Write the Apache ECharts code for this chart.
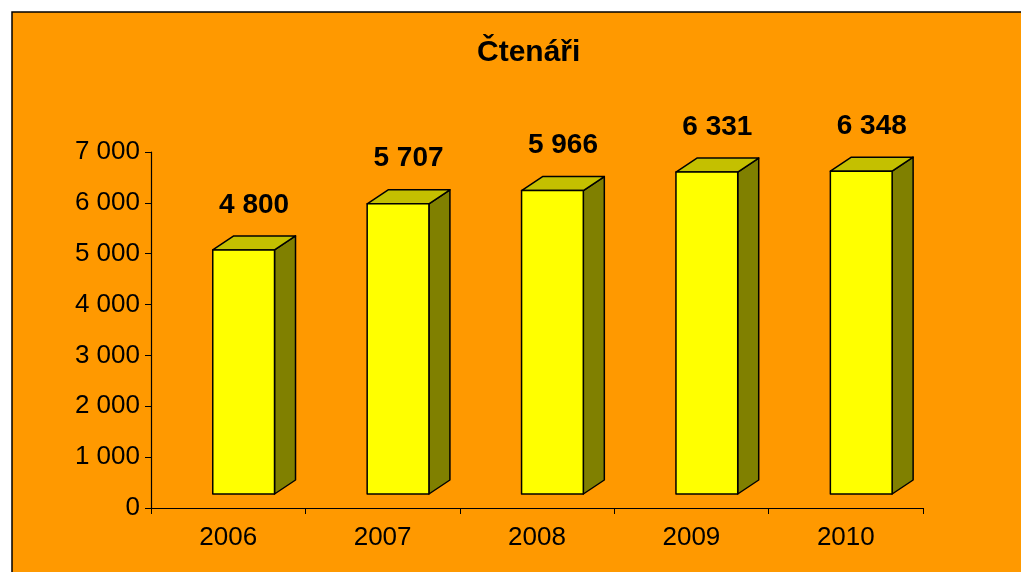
<!DOCTYPE html>
<html>
<head>
<meta charset="utf-8">
<script src="https://cdn.jsdelivr.net/npm/echarts@6/dist/echarts.min.js"></script>
<style>
  html, body { margin: 0; padding: 0; background: #fff; }
  #chart { width: 1021px; height: 572px; }
</style>
</head>
<body>
<div id="chart"></div>
<script>
// data
var years = ['2006', '2007', '2008', '2009', '2010'];
var readers = [4800, 5707, 5966, 6331, 6348];
var yTicks = [0, 1000, 2000, 3000, 4000, 5000, 6000, 7000];

var myChart = echarts.init(document.getElementById('chart'));

function fmt(v) {
    return String(v).replace(/\B(?=(\d{3})+(?!\d))/g, ' ');
}

// 3D sloupec: predni stena, vrch, bok
function renderBox(params, api) {
    var idx = api.value(0);
    var val = api.value(1);
    var band = api.size([1, 0])[0];
    var top = api.coord([idx, val]);
    var base = api.coord([idx, 0]);
    var lift = 14;
    var dx = band * 0.136, dy = 14;
    var x0 = top[0] - band * 0.1;
    var x1 = top[0] + band * 0.3;
    var y0 = top[1] - lift;
    var y1 = base[1] - lift;
    var line = { stroke: '#000', lineWidth: 1.5, lineJoin: 'round' };
    return {
        type: 'group',
        children: [
            {
                type: 'polygon',
                shape: { points: [[x1, y0], [x1 + dx, y0 - dy], [x1 + dx, y1 - dy], [x1, y1]] },
                style: Object.assign({ fill: '#808000' }, line)
            },
            {
                type: 'polygon',
                shape: { points: [[x0, y0], [x0 + dx, y0 - dy], [x1 + dx, y0 - dy], [x1, y0]] },
                style: Object.assign({ fill: '#C4C000' }, line)
            },
            {
                type: 'rect',
                shape: { x: x0, y: y0, width: x1 - x0, height: y1 - y0 },
                style: Object.assign({ fill: '#FFFF00' }, line)
            },
            {
                type: 'text',
                x: (x0 + x1 + dx) / 2,
                y: y0 - dy - 31,
                style: {
                    text: fmt(val),
                    fill: '#000',
                    font: 'bold 28px "Liberation Sans", Arial, sans-serif',
                    align: 'center',
                    verticalAlign: 'middle'
                }
            }
        ]
    };
}

var option = {
    backgroundColor: '#fff',
    animation: false,
    graphic: [
        {
            type: 'rect',
            z: -10,
            silent: true,
            shape: { x: 12, y: 12, width: 1100, height: 700 },
            style: { fill: '#FF9900', stroke: '#000', lineWidth: 1.5 }
        }
    ],
    title: {
        text: 'Čtenáři',
        left: 472,
        top: 33,
        textStyle: {
            color: '#000',
            fontSize: 30,
            fontWeight: 'bold',
            fontFamily: '"Liberation Sans", Arial, sans-serif'
        }
    },
    grid: { left: 151, top: 152, right: 98, bottom: 64 },
    xAxis: {
        type: 'category',
        data: years,
        axisLine: { lineStyle: { color: '#000', width: 1.2 } },
        axisTick: { show: true, length: 6, lineStyle: { color: '#000' } },
        axisLabel: {
            color: '#000',
            fontSize: 26,
            margin: 17,
            fontFamily: '"Liberation Sans", Arial, sans-serif'
        }
    },
    yAxis: {
        type: 'value',
        min: yTicks[0],
        max: yTicks[yTicks.length - 1],
        interval: 1000,
        splitLine: { show: false },
        axisLine: { show: true, lineStyle: { color: '#000', width: 1.2 } },
        axisTick: { show: true, length: 6, lineStyle: { color: '#000' } },
        axisLabel: {
            color: '#000',
            fontSize: 26,
            margin: 11,
            fontFamily: '"Liberation Sans", Arial, sans-serif',
            formatter: fmt
        }
    },
    series: [
        {
            type: 'custom',
            renderItem: renderBox,
            clip: false,
            encode: { x: 0, y: 1 },
            data: readers.map(function (v, i) { return [i, v]; })
        }
    ]
};

myChart.setOption(option);
</script>
</body>
</html>
